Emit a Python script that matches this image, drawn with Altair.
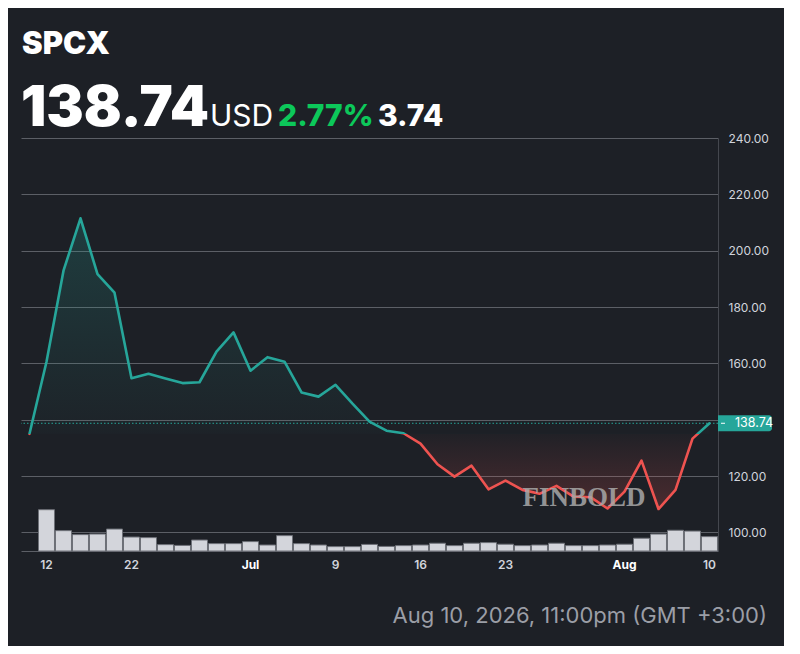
import altair as alt
import pandas as pd

# ---------------- data ----------------
DATES = [
    "2026-06-11", "2026-06-12", "2026-06-15", "2026-06-16", "2026-06-17", "2026-06-18",
    "2026-06-22", "2026-06-23", "2026-06-24", "2026-06-25", "2026-06-26", "2026-06-29",
    "2026-06-30", "2026-07-01", "2026-07-02", "2026-07-06", "2026-07-07", "2026-07-08",
    "2026-07-09", "2026-07-10", "2026-07-13", "2026-07-14", "2026-07-15", "2026-07-16",
    "2026-07-17", "2026-07-20", "2026-07-21", "2026-07-22", "2026-07-23", "2026-07-24",
    "2026-07-27", "2026-07-28", "2026-07-29", "2026-07-30", "2026-07-31", "2026-08-03",
    "2026-08-04", "2026-08-05", "2026-08-06", "2026-08-07", "2026-08-10",
]
PRICE = [
    135.0, 160.6, 192.9, 211.5, 191.7, 185.1, 154.7, 156.3, 154.6, 153.0,
    153.3, 164.2, 171.0, 157.4, 162.2, 160.6, 149.7, 148.2, 152.4, 145.7,
    139.3, 136.1, 135.2, 131.5, 124.2, 119.8, 123.7, 115.3, 118.4, 115.1,
    113.7, 116.5, 112.7, 112.5, 108.5, 114.5, 125.5, 108.3, 115.1, 133.3,
    138.74,
]
# volume (millions) for DATES[1:]
VOLUME = [
    20.7, 10.2, 8.2, 8.5, 11.0, 7.0, 6.7, 3.2, 2.8, 5.5,
    3.7, 3.7, 4.7, 3.0, 7.7, 3.7, 3.0, 2.2, 2.2, 3.3,
    2.3, 2.7, 3.0, 3.9, 2.7, 3.9, 4.2, 3.4, 2.7, 3.0,
    3.9, 2.7, 2.7, 3.0, 3.4, 6.4, 8.5, 10.4, 10.0, 7.2,
]
Y_TICKS = [100, 120, 140, 160, 180, 200, 220, 240]
X_TICKS = ["2026-06-12", "2026-06-22", "2026-07-01", "2026-07-09",
           "2026-07-16", "2026-07-23", "2026-08-03", "2026-08-10"]
MONTH_TICKS = {"2026-07-01": "Jul", "2026-08-03": "Aug"}

TICKER = "SPCX"
LAST = 138.74
PREV_CLOSE = 135.0
CURRENCY = "USD"
CHANGE_PCT = "2.77%"
CHANGE = "3.74"
STAMP = "Aug 10, 2026, 11:00pm (GMT +3:00)"
WATERMARK = "FINBOLD"

# ---------------- styling ----------------
BG = "#1d2026"
TEAL = "#26a69a"
RED = "#ef5350"
GREEN = "#0cc85a"
GRID = "#5c5f66"
W, H = 697, 413

price_df = pd.DataFrame({"date": DATES, "price": PRICE, "base": PREV_CLOSE})
vol_df = pd.DataFrame({"date": DATES[1:], "volume": VOLUME})

pmax, pmin = max(PRICE + [PREV_CLOSE]), min(PRICE + [PREV_CLOSE])
f = (pmax - PREV_CLOSE) / (pmax - pmin)

xscale = alt.Scale(type="band", domain=DATES, paddingInner=0, paddingOuter=0)
label_expr = " : ".join(
    [f"datum.value == '{k}' ? '{v}'" for k, v in MONTH_TICKS.items()]
) + " : toNumber(slice(datum.value, 8))"
month_test = " || ".join([f"datum.value == '{k}'" for k in MONTH_TICKS])

x_axis = alt.Axis(
    values=X_TICKS, labelExpr=label_expr, labelAngle=0, ticks=False, grid=False,
    domain=True, domainColor=GRID, labelPadding=8, labelFontSize=12, labelFont="Inter",
    labelFontWeight={"condition": {"test": month_test, "value": "bold"}, "value": 600},
    labelColor={"condition": {"test": month_test, "value": "#ffffff"}, "value": "#d1d4dc"},
    title=None,
)
x_enc = alt.X("date:N", scale=xscale, axis=x_axis, sort=DATES)

yscale = alt.Scale(domain=[93.4, 240], nice=False, zero=False)
y_axis = alt.Axis(
    orient="right", values=Y_TICKS, ticks=False, grid=True, gridColor=GRID,
    labelExpr=f"abs(datum.value - {LAST}) < 5 ? '' : format(datum.value, '.2f')",
    gridWidth=1, domain=True, domainColor="#44474e", labelColor="#d1d4dc",
    labelFontSize=12, labelFont="Inter", labelPadding=10, title=None,
)

area_grad = alt.LinearGradient(
    gradient="linear", x1=0, x2=0, y1=0, y2=1,
    stops=[
        alt.GradientStop(color="rgba(38,166,154,0.22)", offset=0),
        alt.GradientStop(color="rgba(38,166,154,0.02)", offset=f),
        alt.GradientStop(color="rgba(239,83,80,0.02)", offset=f),
        alt.GradientStop(color="rgba(239,83,80,0.22)", offset=1),
    ],
)
line_grad = alt.LinearGradient(
    gradient="linear", x1=0, x2=0, y1=0, y2=1,
    stops=[
        alt.GradientStop(color=TEAL, offset=0),
        alt.GradientStop(color=TEAL, offset=f),
        alt.GradientStop(color=RED, offset=f),
        alt.GradientStop(color=RED, offset=1),
    ],
)

area = alt.Chart(price_df).mark_area(fill=area_grad).encode(
    x=x_enc,
    y=alt.Y("price:Q", scale=yscale, axis=y_axis),
    y2="base:Q",
)
line = alt.Chart(price_df).mark_line(
    stroke=line_grad, strokeWidth=2.6, strokeJoin="round", strokeCap="round"
).encode(x=x_enc, y=alt.Y("price:Q", scale=yscale))

one = pd.DataFrame({"v": [LAST]})
last_rule = alt.Chart(one).mark_rule(color=TEAL, strokeWidth=1, strokeDash=[1.5, 2]).encode(
    y=alt.Y("v:Q", scale=yscale)
)
box = alt.Chart(one).mark_rect(
    fill=TEAL, yOffset=-8, y2Offset=8, cornerRadiusTopRight=3, cornerRadiusBottomRight=3
).encode(
    x=alt.value(W), x2=alt.value(W + 54),
    y=alt.Y("v:Q", scale=yscale), y2="v:Q",
)
box_tick = alt.Chart(one).mark_rule(color="#ffffff", strokeWidth=1).encode(
    x=alt.value(W + 3), x2=alt.value(W + 7), y=alt.Y("v:Q", scale=yscale)
)
box_text = alt.Chart(one).mark_text(
    align="left", baseline="middle", color="#ffffff", fontSize=12.5, font="Inter"
).encode(x=alt.value(W + 17), y=alt.Y("v:Q", scale=yscale), text=alt.Text("v:Q", format=".2f"))

price_layer = alt.layer(area, line, last_rule, box, box_tick, box_text)

bars = alt.Chart(vol_df).mark_bar(
    width={"band": 0.94}, fill="#d3d5db", stroke="#6e7178", strokeWidth=1
).encode(
    x=x_enc,
    y=alt.Y("volume:Q", scale=alt.Scale(domain=[0, max(VOLUME) * 10], nice=False), axis=None),
)


def label(txt, x, y, size, color="#ffffff", weight="normal", font="Inter", align="left",
          opacity=1.0, baseline="alphabetic"):
    return alt.Chart(pd.DataFrame({"t": [txt]})).mark_text(
        align=align, baseline=baseline, fontSize=size, fontWeight=weight, font=font,
        color=color, opacity=opacity,
    ).encode(x=alt.value(x), y=alt.value(y), text="t:N")


texts = alt.layer(
    label(TICKER, 1, -84, 31, weight=900),
    label(f"{LAST:.2f}", 0, -12, 56, weight=900),
    label(CURRENCY, 189, -12, 30, weight="normal"),
    label(CHANGE_PCT, 257, -12, 30, color=GREEN, weight=800),
    label(CHANGE, 357, -12, 30, weight=800),
    label(STAMP, 746, 485, 22, color="#9b9ea6", align="right"),
    label(WATERMARK, 563, 368, 27, color="#a8a8a8", weight="bold",
          font="Liberation Serif", align="center", opacity=0.85),
)

chart = alt.layer(bars, price_layer, texts).resolve_scale(y="independent").properties(
    width=W, height=H,
    autosize=alt.AutoSizeParams(type="none"),
    padding={"left": 13, "top": 130, "right": 66, "bottom": 95},
    background=BG,
).configure_view(stroke=None)

chart.save("out.html", embed_options={"renderer": "svg", "actions": False})
